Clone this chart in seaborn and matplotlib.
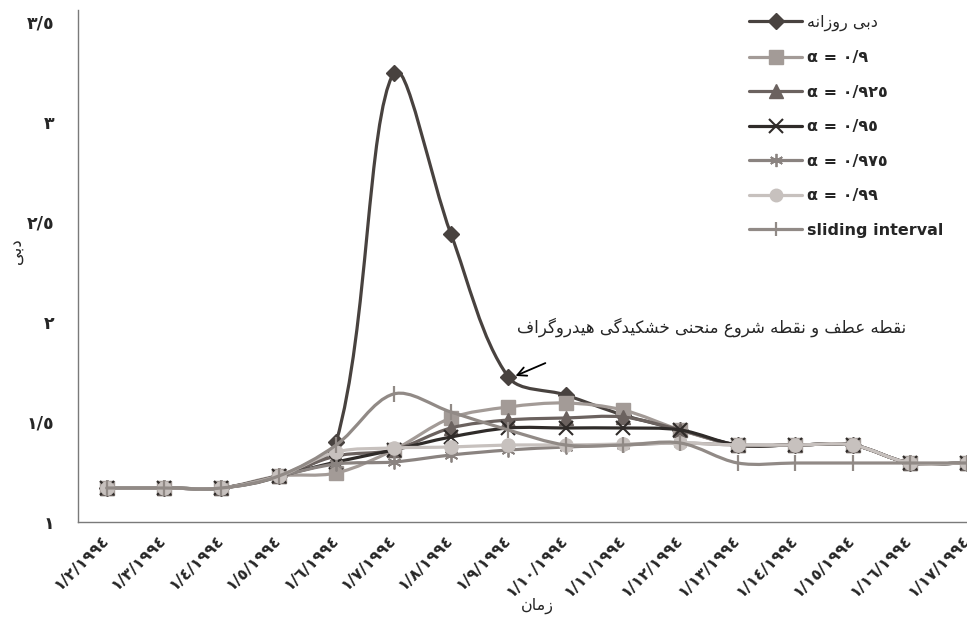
import numpy as np
import matplotlib
matplotlib.use("Agg")
import matplotlib.pyplot as plt
import seaborn as sns
from matplotlib.path import Path
from matplotlib.patches import PathPatch
from matplotlib.lines import Line2D

# ---- data ----
dates = ["1/%d/1994" % m for m in range(2, 18)]
daily = [1.17, 1.17, 1.17, 1.23, 1.40, 3.245, 2.44, 1.725, 1.635, 1.535, 1.46, 1.385, 1.385, 1.385, 1.295, 1.295]
a900 = [1.17, 1.17, 1.17, 1.23, 1.245, 1.36, 1.52, 1.575, 1.595, 1.56, 1.46, 1.385, 1.385, 1.385, 1.295, 1.295]
a925 = [1.17, 1.17, 1.17, 1.23, 1.33, 1.36, 1.47, 1.51, 1.52, 1.525, 1.46, 1.385, 1.385, 1.385, 1.295, 1.295]
a950 = [1.17, 1.17, 1.17, 1.23, 1.30, 1.36, 1.425, 1.47, 1.47, 1.47, 1.46, 1.385, 1.385, 1.385, 1.295, 1.295]
a975 = [1.17, 1.17, 1.17, 1.23, 1.29, 1.30, 1.335, 1.36, 1.375, 1.385, 1.395, 1.385, 1.385, 1.385, 1.295, 1.295]
a990 = [1.17, 1.17, 1.17, 1.23, 1.35, 1.37, 1.375, 1.385, 1.385, 1.39, 1.395, 1.385, 1.385, 1.385, 1.295, 1.295]
sliding = [1.17, 1.17, 1.17, 1.23, 1.385, 1.64, 1.55, 1.46, 1.385, 1.385, 1.395, 1.295, 1.295, 1.295, 1.295, 1.295]
yticks = [1, 1.5, 2, 2.5, 3, 3.5]

# ---- minimal Persian shaping (matplotlib has no bidi / joining) ----
FORMS = {
    'ا': ('\uFE8D', '\uFE8E', None, None),
    'ب': ('\uFE8F', '\uFE90', '\uFE91', '\uFE92'),
    'ح': ('\uFEA1', '\uFEA2', '\uFEA3', '\uFEA4'),
    'خ': ('\uFEA5', '\uFEA6', '\uFEA7', '\uFEA8'),
    'د': ('\uFEA9', '\uFEAA', None, None),
    'ر': ('\uFEAD', '\uFEAE', None, None),
    'ز': ('\uFEAF', '\uFEB0', None, None),
    'ش': ('\uFEB5', '\uFEB6', '\uFEB7', '\uFEB8'),
    'ط': ('\uFEC1', '\uFEC2', '\uFEC3', '\uFEC4'),
    'ع': ('\uFEC9', '\uFECA', '\uFECB', '\uFECC'),
    'ف': ('\uFED1', '\uFED2', '\uFED3', '\uFED4'),
    'ق': ('\uFED5', '\uFED6', '\uFED7', '\uFED8'),
    'م': ('\uFEE1', '\uFEE2', '\uFEE3', '\uFEE4'),
    'ن': ('\uFEE5', '\uFEE6', '\uFEE7', '\uFEE8'),
    'ه': ('\uFEE9', '\uFEEA', '\uFEEB', '\uFEEC'),
    'و': ('\uFEED', '\uFEEE', None, None),
    'ی': ('\uFBFC', '\uFBFD', '\uFBFE', '\uFBFF'),
    'ک': ('\uFB8E', '\uFB8F', '\uFB90', '\uFB91'),
    'گ': ('\uFB92', '\uFB93', '\uFB94', '\uFB95'),
}


def fa(s):
    out = []
    for i, c in enumerate(s):
        if c not in FORMS:
            out.append(c)
            continue
        p = s[i - 1] if i > 0 else ''
        n = s[i + 1] if i + 1 < len(s) else ''
        pj = p in FORMS and FORMS[p][2] is not None
        nj = n in FORMS and FORMS[c][2] is not None
        f = FORMS[c]
        if pj and nj:
            out.append(f[3])
        elif pj:
            out.append(f[1])
        elif nj:
            out.append(f[2])
        else:
            out.append(f[0])
    return ''.join(out)[::-1]


DIG = str.maketrans("0123456789.", "٠١٢٣٤٥٦٧٨٩/")


def fnum(s):
    return str(s).translate(DIG)


def smooth_path(xs, ys, sx=57.4, sy=200.0):
    # Excel-like smoothed line; tangents weighted by segment length (screen space)
    P = np.column_stack([np.asarray(xs, float) * sx, np.asarray(ys, float) * sy])
    n = len(P)
    cin = [None] * n
    cout = [None] * n
    for i in range(n):
        a = P[max(i - 1, 0)]
        b = P[min(i + 1, n - 1)]
        dp = np.hypot(*(P[i] - a))
        dn = np.hypot(*(b - P[i]))
        tot = dp + dn if dp + dn > 0 else 1.0
        cin[i] = P[i] - (b - a) * dp / tot / 3.0
        cout[i] = P[i] + (b - a) * dn / tot / 3.0
    verts = [P[0]]
    codes = [Path.MOVETO]
    for i in range(n - 1):
        verts += [cout[i], cin[i + 1], P[i + 1]]
        codes += [Path.CURVE4] * 3
    verts = np.array(verts) / np.array([sx, sy])
    return Path(verts, codes)


sns.set_style("white")
plt.rcParams['font.family'] = ['DejaVu Sans']

series = [
    (fa("دبی روزانه"), daily, "#48423f", "D", 8.5, 1),
    ("α = " + fnum("0.9"), a900, "#a39b97", "s", 10, 1),
    ("α = " + fnum("0.925"), a925, "#6b625f", "^", 10, 1),
    ("α = " + fnum("0.95"), a950, "#2f2b29", "x", 10, 1.5),
    ("α = " + fnum("0.975"), a975, "#8a8380", (6, 2, 0), 10, 1.3),
    ("α = " + fnum("0.99"), a990, "#c7c1be", "o", 9.5, 1),
    ("sliding interval", sliding, "#918a86", "|", 11, 1.6),
]

fig = plt.figure(figsize=(9.67, 6.2), dpi=100)
ax = fig.add_axes([78 / 967, 98 / 620, 918 / 967, 512 / 620])
idx = np.arange(len(dates))

handles = []
for k, (lab, vals, col, mk, ms, mew) in enumerate(series):
    ax.add_patch(PathPatch(smooth_path(idx, vals), fill=False, edgecolor=col,
                           lw=2.3, capstyle='round', joinstyle='round', zorder=2 + k))
    sns.lineplot(x=idx, y=vals, ax=ax, color=col, marker=mk, markersize=ms,
                 markeredgewidth=mew, markeredgecolor=col, linestyle='none',
                 zorder=2.5 + k)
    handles.append(Line2D([], [], color=col, lw=2.3, marker=mk, markersize=ms - 0.5,
                          markeredgewidth=mew, markeredgecolor=col, label=lab))

ax.set_xlim(-0.5, 15.5)
ax.set_ylim(1, 3.56)

ax.set_xticks(np.arange(-0.5, 16, 1))
ax.set_xticklabels([])
ax.set_xticks(idx, minor=True)
ax.set_xticklabels([fnum(d) for d in dates], minor=True, rotation=45, ha='right',
                   va='center', rotation_mode='anchor', fontsize=11.5, fontweight='bold')
ax.tick_params(axis='x', which='minor', length=0, pad=11)
ax.tick_params(axis='x', which='major', length=6, width=1, color='#7a7a7a', direction='out')

ax.set_yticks(yticks)
ax.set_yticklabels([fnum(v) for v in yticks], fontsize=12.5, fontweight='bold')
ax.tick_params(axis='y', length=7, width=1, color='#7a7a7a', direction='out', pad=10)

for s in ['top', 'right']:
    ax.spines[s].set_visible(False)
for s in ['left', 'bottom']:
    ax.spines[s].set_color('#7a7a7a')
    ax.spines[s].set_linewidth(1)

ax.set_xlabel(fa("زمان"), fontsize=11.5)
ax.xaxis.set_label_coords(0.5, -0.148)
ax.set_ylabel(fa("دبی"), fontsize=12)
ax.yaxis.set_label_coords(-0.058, 0.53)

ax.annotate("", xy=(7.08, 1.725), xytext=(7.69, 1.80),
            arrowprops=dict(arrowstyle='->', color='black', lw=1.3, mutation_scale=16))
ax.text(10.55, 1.975, fa("نقطه عطف و نقطه شروع منحنی خشکیدگی هیدروگراف"),
        ha='center', va='center', fontsize=12)

leg = fig.legend(handles=handles, loc='upper left', bbox_to_anchor=(735 / 967, 1 - 0 / 620),
                 frameon=False, handlelength=3.3, handletextpad=0.3,
                 labelspacing=1.22, prop={'weight': 'bold', 'size': 11.5})
# the Persian entry renders better in the regular face
leg.get_texts()[0].set_fontweight('normal')

fig.savefig("out.png", dpi=100)
